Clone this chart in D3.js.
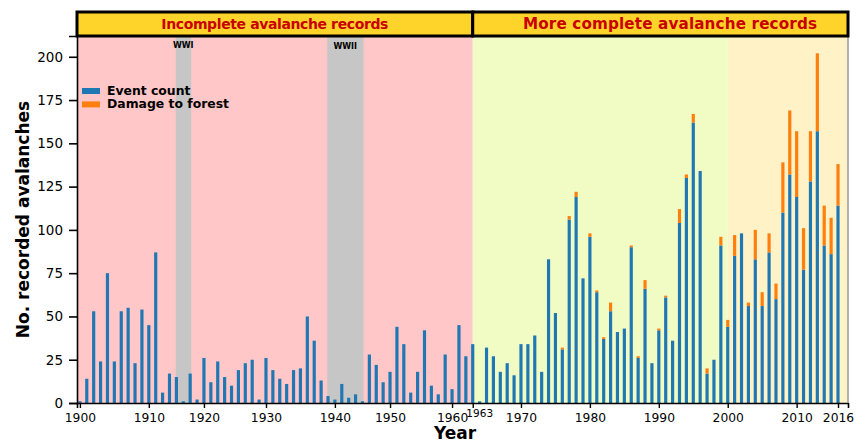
<!DOCTYPE html>
<html>
<head>
<meta charset="utf-8">
<script src="https://cdn.jsdelivr.net/npm/d3@7"></script>
<style>
body{margin:0;background:#fff;}
text{font-family:"DejaVu Sans",Verdana,sans-serif;}
</style>
</head>
<body>
<div id="chart"></div>
<script>
// years in the record (some war years have no entry)
var years = [1900,1901,1902,1903,1904,1905,1906,1907,1908,1909,
             1910,1911,1912,1913,1914,1917,1918,1919,
             1920,1921,1922,1923,1924,1925,1927,1928,1929,
             1930,1931,1932,1933,1934,1935,1936,1937,1938,1939,
             1940,1941,1942,1944,1945,1946,1948,1949,
             1950,1951,1952,1953,1954,1955,1957,1958,1959,
             1960,1961,1962,1963,1964,1965,1966,1967,1968,1969,
             1970,1971,1972,1973,1974,1975,1976,1977,1978,1979,
             1980,1981,1982,1983,1984,1985,1986,1987,1988,1989,
             1990,1991,1992,1993,1994,1995,1996,1997,1998,1999,
             2000,2001,2002,2003,2004,2005,2006,2007,2008,2009,
             2010,2011,2012,2013,2014,2015,2016];
var eventCount = [1,14,53,24,75,24,53,55,23,54,
                  45,87,6,17,15,1,17,2,
                  26,12,24,15,10,19,23,25,2,
                  26,19,14,11,19,20,50,36,13,4,
                  2,11,3,5,1,28,22,12,
                  18,44,34,6,18,42,10,5,28,
                  8,45,27,34,1,32,27,18,23,16,
                  34,34,39,18,83,52,31,106,119,72,
                  96,64,37,53,41,43,90,26,66,23,
                  42,61,36,104,130,162,134,17,25,91,
                  44,85,98,56,83,56,87,60,110,132,
                  119,77,128,157,91,86,114];
var forestDamage = [0,0,0,0,0,0,0,0,0,0,
                    0,0,0,0,0,0,0,0,
                    0,0,0,0,0,0,0,0,0,
                    0,0,0,0,0,0,0,0,0,0,
                    0,0,0,0,0,0,0,0,
                    0,0,0,0,0,0,0,0,0,
                    0,0,0,0,0,0,0,0,0,0,
                    0,0,0,0,0,0,1,2,3,0,
                    2,1,1,5,0,0,1,1,5,0,
                    1,1,0,8,2,5,0,3,0,5,
                    4,12,0,2,17,8,11,9,29,37,
                    38,24,29,45,23,21,24];

var yTicks = [0,25,50,75,100,125,150,175,200];
var xTickYears = [1900,1910,1920,1930,1940,1950,1960,1963,1970,1980,1990,2000,2010,2016];
var wars = [{name:"WWI", from:1914, to:1918}, {name:"WWII", from:1939, to:1945}];

var margin = {top: 36, right: 8, bottom: 39, left: 77},
    width = 856 - margin.left - margin.right,
    height = 442 - margin.top - margin.bottom;

var svg = d3.select("#chart")
    .append("svg")
    .attr("width", 856)
    .attr("height", 442)
    .append("g")
    .attr("transform", "translate(" + margin.left + "," + margin.top + ")");

var x = d3.scaleLinear().domain([-0.42, years.length - 1 + 1.45]).range([0, width]);
var y = d3.scaleLinear().domain([0, 212]).range([height, 0]);
function xi(yr){ return x(years.indexOf(yr)); }
var step = x(1) - x(0);
var bw = step * 0.46;

// background periods
svg.append("rect").attr("x", 0).attr("y", 0)
    .attr("width", xi(1963)).attr("height", height).style("fill", "#ffc7c7");
svg.append("rect").attr("x", xi(1963)).attr("y", 0)
    .attr("width", xi(2000) - xi(1963)).attr("height", height).style("fill", "#f1fcc4");
svg.append("rect").attr("x", xi(2000)).attr("y", 0)
    .attr("width", width - xi(2000)).attr("height", height).style("fill", "#fff2c6");

// war bands
svg.selectAll(".war").data(wars).enter().append("rect")
    .attr("x", function(d){ return xi(d.from) - step * 0.1; })
    .attr("y", 0)
    .attr("width", function(d){ return xi(d.to) - xi(d.from) + step * 0.25; })
    .attr("height", height)
    .style("fill", "#c6c6c6");
svg.selectAll(".warlab").data(wars).enter().append("text")
    .attr("x", function(d){ return (xi(d.from) + xi(d.to)) / 2; })
    .attr("y", function(d, i){ return i == 0 ? 11.5 : 13; })
    .attr("text-anchor", "middle")
    .style("font-size", "8px").style("font-weight", "bold")
    .text(function(d){ return d.name; });

// bars
var bars = svg.append("g");
bars.selectAll(".ev").data(years).enter().append("rect")
    .attr("x", function(d, i){ return x(i) - bw / 2; })
    .attr("y", function(d, i){ return y(eventCount[i]); })
    .attr("width", bw)
    .attr("height", function(d, i){ return y(0) - y(eventCount[i]); })
    .style("fill", "#1f77b4");
bars.selectAll(".fd").data(years).enter().append("rect")
    .attr("x", function(d, i){ return x(i) - bw / 2; })
    .attr("y", function(d, i){ return y(eventCount[i] + forestDamage[i]); })
    .attr("width", bw)
    .attr("height", function(d, i){ return y(eventCount[i]) - y(eventCount[i] + forestDamage[i]); })
    .style("fill", "#ff7f0e");

// axes
var yAxis = svg.append("g")
    .call(d3.axisLeft(y).tickValues(yTicks).tickSize(8).tickPadding(6));
yAxis.selectAll("text").style("font-size", "13.5px").style("fill", "#000");
yAxis.selectAll("line").style("stroke-width", "1.6px");
yAxis.select(".domain").style("stroke-width", "1.6px");

var xTickIdx = xTickYears.map(function(d){ return years.indexOf(d); });
var xAxis = svg.append("g")
    .attr("transform", "translate(0," + height + ")")
    .call(d3.axisBottom(x).tickValues(xTickIdx).tickSize(5).tickPadding(5)
        .tickFormat(function(d){ return years[d] == 1963 ? "" : years[d]; }));
xAxis.selectAll("text").style("font-size", "12.3px").style("fill", "#000");
xAxis.selectAll("line").style("stroke-width", "1.4px");
xAxis.select(".domain").style("stroke-width", "1.6px");
svg.append("text")
    .attr("x", xi(1963) + 7).attr("y", height + 13.5)
    .attr("text-anchor", "middle")
    .style("font-size", "10.5px")
    .text("1963");

// right edge
svg.append("line").attr("x1", width).attr("x2", width).attr("y1", 0).attr("y2", height)
    .style("stroke", "#999").style("stroke-width", "1.5px");

// header boxes
var heads = [
    {label: "Incomplete avalanche records", x0: 0, x1: xi(1963), tx: xi(1963) / 2, len: 227, fs: 14},
    {label: "More complete avalanche records", x0: xi(1963), x1: width, tx: 593, len: 294, fs: 15.2}
];
svg.selectAll(".hbox").data(heads).enter().append("rect")
    .attr("x", function(d){ return d.x0; })
    .attr("y", -24)
    .attr("width", function(d){ return d.x1 - d.x0; })
    .attr("height", 24)
    .style("fill", "#ffd42a").style("stroke", "#000").style("stroke-width", "3px");
svg.selectAll(".htxt").data(heads).enter().append("text")
    .attr("x", function(d){ return d.tx - d.len / 2; })
    .attr("y", -7.5)
    .attr("textLength", function(d){ return d.len; })
    .attr("lengthAdjust", "spacing")
    .style("font-size", function(d){ return d.fs + "px"; })
    .style("font-weight", "bold").style("fill", "#c80000")
    .text(function(d){ return d.label; });

// legend
var legend = [{label: "Event count", color: "#1f77b4"}, {label: "Damage to forest", color: "#ff7f0e"}];
var lg = svg.selectAll(".lg").data(legend).enter().append("g")
    .attr("transform", function(d, i){ return "translate(5," + (52 + i * 13.4) + ")"; });
lg.append("rect").attr("width", 18).attr("height", 6)
    .style("fill", function(d){ return d.color; });
lg.append("text").attr("x", 25).attr("y", 6.5)
    .style("font-size", "12.4px").style("font-weight", "bold")
    .text(function(d){ return d.label; });

// axis titles
svg.append("text")
    .attr("transform", "rotate(-90)")
    .attr("x", -height / 2).attr("y", -48)
    .attr("text-anchor", "middle")
    .style("font-size", "17px").style("font-weight", "bold")
    .text("No. recorded avalanches");
svg.append("text")
    .attr("x", 378).attr("y", height + 36)
    .attr("text-anchor", "middle")
    .style("font-size", "17px").style("font-weight", "bold")
    .text("Year");
</script>
</body>
</html>
